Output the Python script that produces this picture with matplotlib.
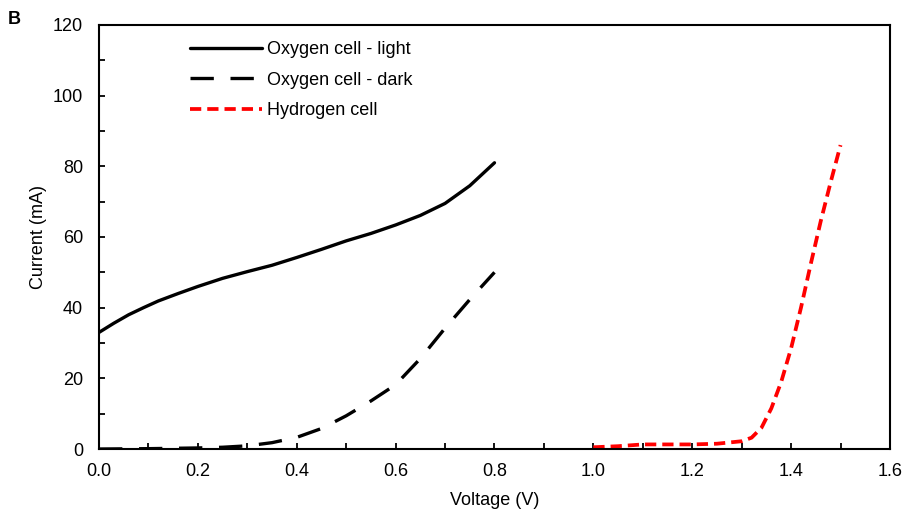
import matplotlib
matplotlib.use("Agg")
import matplotlib.pyplot as plt
from matplotlib.ticker import MultipleLocator

plt.rcParams['font.family'] = ['Liberation Sans', 'DejaVu Sans']

# Oxygen cell under light
light_v = [0.0, 0.03, 0.06, 0.09, 0.12, 0.16, 0.2, 0.25, 0.3, 0.35, 0.4, 0.45, 0.5, 0.55, 0.6, 0.65, 0.7, 0.75, 0.8]
light_i = [33.0, 35.6, 38.0, 40.0, 41.9, 44.0, 46.0, 48.3, 50.2, 52.0, 54.2, 56.5, 58.9, 61.0, 63.4, 66.1, 69.5, 74.5, 81.0]

# Oxygen cell in the dark
dark_v = [0.0, 0.1, 0.2, 0.25, 0.3, 0.35, 0.4, 0.45, 0.5, 0.55, 0.6, 0.65, 0.7, 0.75, 0.8]
dark_i = [0.0, 0.1, 0.3, 0.5, 0.9, 1.8, 3.3, 5.8, 9.4, 13.6, 18.2, 25.6, 34.2, 42.3, 50.0]

# Hydrogen cell
hyd_v = [1.0, 1.05, 1.1, 1.15, 1.2, 1.25, 1.3, 1.32, 1.34, 1.36, 1.38, 1.4, 1.42, 1.44, 1.46, 1.48, 1.5]
hyd_i = [0.5, 0.8, 1.3, 1.3, 1.3, 1.5, 2.2, 3.2, 6.0, 11.5, 19.0, 28.5, 40.0, 52.5, 64.5, 75.5, 86.0]

fig = plt.figure(figsize=(9.06, 5.20), dpi=100)
ax = fig.add_axes([0.1093, 0.1365, 0.8730, 0.8155])

ax.plot(light_v, light_i, color='black', lw=2.4, solid_capstyle='round',
        label='Oxygen cell - light')
ax.plot(dark_v, dark_i, color='black', lw=2.4, dashes=(7, 5),
        label='Oxygen cell - dark')
ax.plot(hyd_v, hyd_i, color='#ff0000', lw=2.7, dashes=(3, 1.6),
        label='Hydrogen cell')

ax.set_xlim(0, 1.6)
ax.set_ylim(0, 120)
ax.xaxis.set_major_locator(MultipleLocator(0.2))
ax.xaxis.set_minor_locator(MultipleLocator(0.1))
ax.yaxis.set_major_locator(MultipleLocator(20))
ax.yaxis.set_minor_locator(MultipleLocator(10))
ax.xaxis.set_major_formatter(matplotlib.ticker.FormatStrFormatter('%.1f'))
ax.tick_params(which='both', direction='in', length=4, width=1.3, labelsize=13)
ax.tick_params(axis='x', pad=10)
ax.tick_params(axis='y', pad=11.5)

for sp in ax.spines.values():
    sp.set_linewidth(1.5)

ax.set_xlabel('Voltage (V)', fontsize=13, labelpad=9)
ax.set_ylabel('Current (mA)', fontsize=13, labelpad=4)

ax.legend(loc='upper left', bbox_to_anchor=(0.094, 1.0), frameon=False, fontsize=13,
          handlelength=4.0, handletextpad=0.3, labelspacing=0.75)

fig.text(0.009, 0.962, 'B', fontsize=13, fontweight='bold', va='center')

fig.savefig('out.png', dpi=100)
